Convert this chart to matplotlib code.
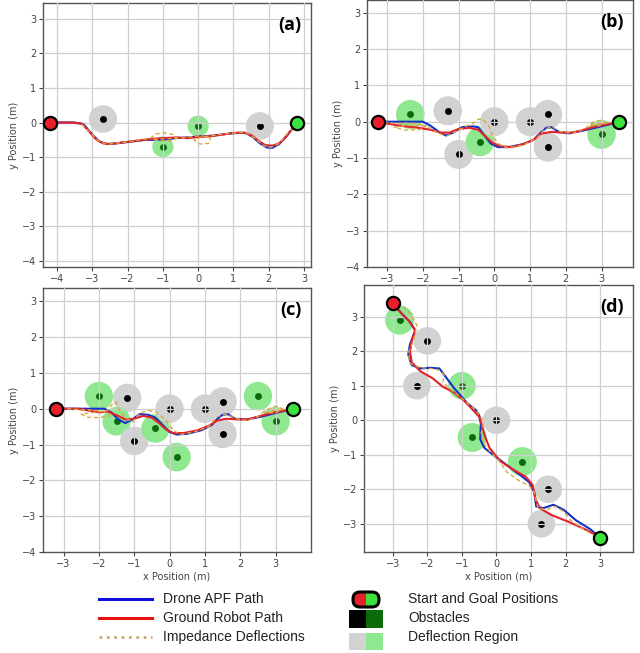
import matplotlib
matplotlib.use("Agg")
import matplotlib.pyplot as plt
from matplotlib.patches import Circle, FancyBboxPatch, Rectangle

# ---------------- data ----------------
# panel (a)
a_start = (-4.2, 0.0)
a_goal = (2.8, 0.0)
a_obs_x = [-2.7, 1.75, -1.0, 0.0]
a_obs_y = [0.1, -0.1, -0.7, -0.1]
a_obs_r = [0.4, 0.4, 0.3, 0.3]
a_obs_kind = ['k', 'k', 'g', 'g']
a_red_x = [-4.2, -3.6, -3.3, -3.1, -2.9, -2.7, -2.5, -2.1, -1.7, -1.3, -1.0, -0.6, -0.3, 0.0, 0.3, 0.6, 1.0, 1.3, 1.5, 1.7, 1.9, 2.1, 2.3, 2.5, 2.65, 2.8]
a_red_y = [0, 0, -0.03, -0.25, -0.48, -0.6, -0.62, -0.57, -0.52, -0.47, -0.45, -0.43, -0.45, -0.42, -0.4, -0.36, -0.3, -0.29, -0.36, -0.52, -0.65, -0.67, -0.6, -0.4, -0.2, 0]
a_blue_x = [-4.2, -3.5, -3.25, -3.0, -2.8, -2.6, -2.3, -1.9, -1.5, -1.2, -0.9, -0.6, -0.3, 0.0, 0.4, 0.8, 1.1, 1.35, 1.55, 1.75, 1.95, 2.1, 2.3, 2.5, 2.65, 2.8]
a_blue_y = [0, 0, -0.05, -0.35, -0.55, -0.62, -0.6, -0.55, -0.5, -0.5, -0.48, -0.45, -0.43, -0.4, -0.38, -0.33, -0.3, -0.3, -0.42, -0.6, -0.72, -0.73, -0.62, -0.4, -0.2, 0]
a_imp_x = [-3.3, -3.0, -2.8, -2.6, -2.2, -1.8, -1.35, -1.2, -0.95, -0.7, -0.62, -0.8, -1.1, -1.3, -0.9, -0.4, -0.12, 0.1, 0.35, 0.3, 0.05, -0.12, 0.1, 0.5, 1.0, 1.35, 1.6, 1.85, 2.05, 2.3, 2.5, 2.7]
a_imp_y = [-0.05, -0.35, -0.55, -0.63, -0.58, -0.53, -0.45, -0.33, -0.3, -0.35, -0.45, -0.54, -0.53, -0.48, -0.47, -0.44, -0.4, -0.38, -0.45, -0.6, -0.62, -0.5, -0.42, -0.36, -0.3, -0.28, -0.45, -0.66, -0.72, -0.6, -0.35, -0.12]

# panel (b)
b_start = (-3.25, 0.0)
b_goal = (3.5, 0.0)
b_obs_x = [-2.35, -1.3, -1.0, -0.4, 0.0, 1.0, 1.5, 1.5, 3.0]
b_obs_y = [0.2, 0.3, -0.9, -0.55, 0.0, 0.0, 0.2, -0.7, -0.35]
b_obs_r = [0.4, 0.4, 0.4, 0.4, 0.4, 0.4, 0.4, 0.4, 0.4]
b_obs_kind = ['g', 'k', 'k', 'g', 'k', 'k', 'k', 'k', 'g']
b_red_x = [-3.25, -3.0, -2.7, -2.4, -2.1, -1.8, -1.5, -1.25, -1.0, -0.7, -0.45, -0.25, -0.05, 0.2, 0.5, 0.8, 1.1, 1.3, 1.6, 1.9, 2.2, 2.5, 2.8, 3.1, 3.35, 3.5]
b_red_y = [0, -0.05, -0.1, -0.14, -0.17, -0.22, -0.3, -0.3, -0.2, -0.17, -0.22, -0.4, -0.58, -0.68, -0.7, -0.62, -0.5, -0.33, -0.28, -0.3, -0.3, -0.22, -0.14, -0.08, -0.03, 0]
b_blue_x = [-3.25, -2.7, -2.0, -1.8, -1.55, -1.35, -1.15, -0.9, -0.6, -0.45, -0.3, -0.1, 0.1, 0.4, 0.8, 1.1, 1.3, 1.45, 1.6, 1.8, 2.1, 2.5, 2.9, 3.2, 3.5]
b_blue_y = [0, 0, 0, -0.1, -0.28, -0.38, -0.3, -0.15, -0.13, -0.15, -0.35, -0.6, -0.7, -0.7, -0.62, -0.5, -0.3, -0.17, -0.15, -0.28, -0.32, -0.24, -0.15, -0.08, 0]
b_imp_x = [-3.1, -2.8, -2.5, -2.2, -1.9, -2.1, -2.5, -2.8, -2.4, -1.9, -1.6, -1.35, -1.1, -0.8, -0.6, -0.45, -0.3, -0.15, -0.05, 0.1, 0.35, 0.8, 1.2, 1.4, 1.6, 1.85, 2.2, 2.55, 2.75, 3.0, 3.1, 2.9, 2.65, 2.9, 3.3]
b_imp_y = [0, -0.05, -0.04, -0.05, -0.12, -0.22, -0.23, -0.15, -0.1, -0.12, -0.3, -0.4, -0.28, -0.13, -0.05, 0.07, 0.05, -0.12, -0.38, -0.6, -0.72, -0.65, -0.45, -0.22, -0.13, -0.27, -0.32, -0.18, -0.02, 0.05, -0.05, -0.12, -0.1, -0.05, -0.02]

# panel (c)
c_start = (-3.2, 0.0)
c_goal = (3.5, 0.0)
c_obs_x = [-2.0, -1.2, -1.5, -1.0, -0.4, 0.0, 0.2, 1.0, 1.5, 1.5, 2.5, 3.0]
c_obs_y = [0.35, 0.3, -0.35, -0.9, -0.55, 0.0, -1.35, 0.0, 0.2, -0.7, 0.35, -0.35]
c_obs_r = [0.4, 0.4, 0.4, 0.4, 0.4, 0.4, 0.4, 0.4, 0.4, 0.4, 0.4, 0.4]
c_obs_kind = ['g', 'k', 'g', 'k', 'g', 'k', 'g', 'k', 'k', 'k', 'g', 'g']
c_red_x = [-3.2, -2.6, -2.3, -2.0, -1.75, -1.5, -1.25, -1.0, -0.75, -0.5, -0.3, -0.1, 0.1, 0.4, 0.8, 1.1, 1.35, 1.6, 1.9, 2.2, 2.5, 2.8, 3.1, 3.35, 3.5]
c_red_y = [0, 0, -0.05, -0.1, -0.08, -0.18, -0.3, -0.28, -0.2, -0.25, -0.4, -0.58, -0.68, -0.68, -0.6, -0.48, -0.33, -0.28, -0.3, -0.3, -0.22, -0.14, -0.08, -0.03, 0]
c_blue_x = [-3.2, -2.5, -1.85, -1.65, -1.45, -1.25, -1.05, -0.85, -0.6, -0.4, -0.2, 0.0, 0.2, 0.5, 0.9, 1.2, 1.35, 1.5, 1.65, 1.85, 2.2, 2.6, 3.0, 3.3, 3.5]
c_blue_y = [0, 0, 0, -0.1, -0.3, -0.4, -0.3, -0.15, -0.17, -0.25, -0.45, -0.65, -0.72, -0.7, -0.6, -0.45, -0.28, -0.17, -0.15, -0.28, -0.3, -0.22, -0.12, -0.05, 0]
c_imp_x = [-2.9, -2.5, -2.2, -1.85, -1.7, -2.0, -2.3, -2.5, -2.1, -1.75, -1.6, -1.5, -1.45, -1.3, -1.05, -0.85, -0.6, -0.4, -0.25, -0.05, 0.1, 0.3, 0.7, 1.1, 1.35, 1.6, 1.9, 2.2, 2.5, 2.7, 3.0, 3.2, 3.0, 2.7, 2.9, 3.3]
c_imp_y = [0, -0.03, -0.04, -0.08, -0.2, -0.25, -0.24, -0.15, -0.1, -0.05, 0.15, 0.18, 0.02, -0.2, -0.38, -0.12, -0.05, -0.08, -0.2, -0.38, -0.6, -0.72, -0.65, -0.5, -0.22, -0.15, -0.28, -0.33, -0.22, -0.05, 0.07, 0.0, -0.12, -0.1, -0.05, -0.02]

# panel (d)
d_start = (-3.0, 3.4)
d_goal = (3.0, -3.4)
d_obs_x = [-2.8, -2.0, -2.3, -1.0, 0.0, -0.7, 0.75, 1.5, 1.3]
d_obs_y = [2.9, 2.3, 1.0, 1.0, 0.0, -0.5, -1.2, -2.0, -3.0]
d_obs_r = [0.42, 0.4, 0.4, 0.4, 0.4, 0.42, 0.42, 0.4, 0.4]
d_obs_kind = ['g', 'k', 'k', 'g', 'k', 'g', 'g', 'k', 'k']
d_red_x = [-3.0, -2.8, -2.55, -2.35, -2.45, -2.5, -2.45, -2.2, -1.85, -1.55, -1.25, -0.95, -0.7, -0.5, -0.42, -0.35, -0.2, 0.1, 0.5, 0.85, 1.05, 1.12, 1.25, 1.6, 2.1, 2.6, 3.0]
d_red_y = [3.4, 3.15, 2.9, 2.62, 2.3, 2.0, 1.68, 1.42, 1.22, 0.97, 0.82, 0.58, 0.32, 0.1, -0.14, -0.42, -0.8, -1.18, -1.44, -1.64, -1.88, -2.25, -2.55, -2.75, -2.95, -3.18, -3.4]
d_blue_x = [-3.0, -2.75, -2.5, -2.35, -2.5, -2.55, -2.45, -2.2, -1.9, -1.65, -1.5, -1.2, -0.85, -0.6, -0.5, -0.45, -0.47, -0.35, -0.1, 0.3, 0.7, 0.95, 1.1, 1.15, 1.35, 1.65, 1.95, 2.3, 2.7, 3.0]
d_blue_y = [3.4, 3.1, 2.85, 2.6, 2.2, 1.9, 1.6, 1.5, 1.52, 1.5, 1.3, 0.9, 0.5, 0.3, 0.15, -0.1, -0.55, -0.8, -1.0, -1.3, -1.6, -1.8, -2.1, -2.5, -2.55, -2.45, -2.6, -2.9, -3.15, -3.4]
d_imp_x = [-2.9, -2.7, -2.5, -2.3, -2.4, -2.55, -2.5, -2.2, -1.9, -1.65, -1.5, -1.55, -1.4, -1.1, -0.85, -0.6, -0.42, -0.38, -0.45, -0.35, -0.15, 0.05, 0.3, 0.65, 0.95, 1.1, 1.2, 1.45, 1.7, 1.95, 2.15, 2.5, 2.9]
d_imp_y = [3.35, 3.3, 3.1, 2.75, 2.3, 1.95, 1.65, 1.52, 1.5, 1.45, 1.3, 1.12, 0.95, 0.72, 0.5, 0.3, 0.05, -0.14, -0.4, -0.7, -0.95, -1.15, -1.5, -1.75, -1.9, -2.1, -2.55, -2.6, -2.5, -2.65, -2.9, -3.15, -3.38]

panel_labels = ['(a)', '(b)', '(c)', '(d)']
legend_line_labels = ['Drone APF Path', 'Ground Robot Path', 'Impedance Deflections']
legend_patch_labels = ['Start and Goal Positions', 'Obstacles', 'Deflection Region']
xlabel_text = 'x Position (m)'
ylabel_text = 'y Position (m)'

# ---------------- style ----------------
C_BLUE = '#1432c8'
C_RED = '#e3222a'
C_IMP = '#d9a845'
C_GRAY = '#d2d2d2'
C_LGREEN = '#8fe88f'
C_DGREEN = '#0b6b0b'
C_START = '#e8202a'
C_GOAL = '#3ee03e'

W, H = 640, 653
fig = plt.figure(figsize=(W / 100, H / 100), dpi=100)


def rect(l, t, r, b):
    return [l / W, 1 - b / H, (r - l) / W, (b - t) / H]


panels = [
    dict(box=(43, 3, 311, 267), xlim=(-4.4, 3.2), ylim=(-4.17, 3.45), xt=range(-4, 4), yt=range(-4, 4),
         start=a_start, goal=a_goal, ox=a_obs_x, oy=a_obs_y, orr=a_obs_r, ok=a_obs_kind,
         rx=a_red_x, ry=a_red_y, bx=a_blue_x, by=a_blue_y, ix=a_imp_x, iy=a_imp_y, xlabel=False),
    dict(box=(367, 0, 633, 267), xlim=(-3.56, 3.88), ylim=(-4.0, 3.35), xt=range(-3, 4), yt=range(-4, 4),
         start=b_start, goal=b_goal, ox=b_obs_x, oy=b_obs_y, orr=b_obs_r, ok=b_obs_kind,
         rx=b_red_x, ry=b_red_y, bx=b_blue_x, by=b_blue_y, ix=b_imp_x, iy=b_imp_y, xlabel=False),
    dict(box=(43, 288, 311, 552), xlim=(-3.58, 4.0), ylim=(-4.0, 3.37), xt=range(-3, 4), yt=range(-4, 4),
         start=c_start, goal=c_goal, ox=c_obs_x, oy=c_obs_y, orr=c_obs_r, ok=c_obs_kind,
         rx=c_red_x, ry=c_red_y, bx=c_blue_x, by=c_blue_y, ix=c_imp_x, iy=c_imp_y, xlabel=True),
    dict(box=(364, 285, 633, 552), xlim=(-3.83, 3.95), ylim=(-3.82, 3.92), xt=range(-3, 4), yt=range(-3, 4),
         start=d_start, goal=d_goal, ox=d_obs_x, oy=d_obs_y, orr=d_obs_r, ok=d_obs_kind,
         rx=d_red_x, ry=d_red_y, bx=d_blue_x, by=d_blue_y, ix=d_imp_x, iy=d_imp_y, xlabel=True),
]

for p, lab in zip(panels, panel_labels):
    ax = fig.add_axes(rect(*p['box']))
    ax.set_xlim(*p['xlim'])
    ax.set_ylim(*p['ylim'])
    ax.set_xticks(list(p['xt']))
    ax.set_yticks(list(p['yt']))
    ax.set_axisbelow(False)
    ax.grid(True, color='#cfcfcf', lw=0.9)
    for s in ax.spines.values():
        s.set_color('#555555')
        s.set_linewidth(1.0)
    ax.tick_params(labelsize=7, colors='#444444', length=3, width=0.8, pad=2)
    ax.set_ylabel(ylabel_text, fontsize=7, color='#444444', labelpad=2)
    if p['xlabel']:
        ax.set_xlabel(xlabel_text, fontsize=7, color='#444444', labelpad=2)

    # deflection regions and obstacles
    for x, y, r, k in zip(p['ox'], p['oy'], p['orr'], p['ok']):
        ax.add_patch(Circle((x, y), r, facecolor=C_GRAY if k == 'k' else C_LGREEN,
                            edgecolor='none', zorder=1))
    for x, y, k in zip(p['ox'], p['oy'], p['ok']):
        ax.plot(x, y, 'o', ms=5, color='black' if k == 'k' else C_DGREEN, mec='none', zorder=2)

    ax.plot(p['bx'], p['by'], '-', color=C_BLUE, lw=1.5, zorder=3)
    ax.plot(p['rx'], p['ry'], '-', color=C_RED, lw=1.5, zorder=4)
    ax.plot(p['ix'], p['iy'], '--', color=C_IMP, lw=1.0, dashes=(3, 2), zorder=5)

    ax.plot(*p['start'], 'o', ms=9.5, color=C_START, mec='black', mew=1.6, zorder=6)
    ax.plot(*p['goal'], 'o', ms=9.5, color=C_GOAL, mec='black', mew=1.6, zorder=6)

    ax.text(0.965, 0.95, lab, transform=ax.transAxes, ha='right', va='top',
            fontsize=13, fontweight='bold', family='Open Sans', zorder=10)

# ---------------- legend ----------------
lg = fig.add_axes([0, 0, 1, 1], facecolor='none')
lg.set_xlim(0, W)
lg.set_ylim(H, 0)
lg.axis('off')

rows_y = [599, 618, 637]
line_styles = [dict(color='#1010e0', ls='-', lw=2.2),
               dict(color='#e81010', ls='-', lw=2.2),
               dict(color='#c8aa70', ls=':', lw=2.0)]
for y, lab, st in zip(rows_y, legend_line_labels, line_styles):
    lg.plot([99, 152], [y, y], **st)
    lg.text(163, y, lab, fontsize=10, family='Liberation Sans', va='center', ha='left', color='#222222')

# start/goal pill
pill_l, pill_r, pill_t, pill_b = 348, 384, 592, 607
pr = FancyBboxPatch((pill_l + 5, pill_t), (pill_r - pill_l) - 10, pill_b - pill_t,
                    boxstyle='round,pad=0,rounding_size=7', facecolor=C_START, edgecolor='none')
lg.add_patch(pr)
pg = FancyBboxPatch((pill_l + 5, pill_t), (pill_r - pill_l) - 10, pill_b - pill_t,
                    boxstyle='round,pad=0,rounding_size=7', facecolor=C_GOAL, edgecolor='none')
lg.add_patch(pg)
clip = Rectangle(((pill_l + pill_r) / 2, pill_t - 5), 40, 30, transform=lg.transData)
pg.set_clip_path(clip)
pe = FancyBboxPatch((pill_l + 5, pill_t), (pill_r - pill_l) - 10, pill_b - pill_t,
                    boxstyle='round,pad=0,rounding_size=7', facecolor='none', edgecolor='black', lw=2.2)
lg.add_patch(pe)

lg.add_patch(Rectangle((349, 610), 17, 18, facecolor='black', edgecolor='none'))
lg.add_patch(Rectangle((366, 610), 17, 18, facecolor=C_DGREEN, edgecolor='none'))
lg.add_patch(Rectangle((349, 633), 17, 17, facecolor=C_GRAY, edgecolor='none'))
lg.add_patch(Rectangle((366, 633), 17, 17, facecolor=C_LGREEN, edgecolor='none'))

for y, lab in zip(rows_y, legend_patch_labels):
    lg.text(408, y, lab, fontsize=10, family='Liberation Sans', va='center', ha='left', color='#222222')

fig.savefig('out.png', dpi=100)
